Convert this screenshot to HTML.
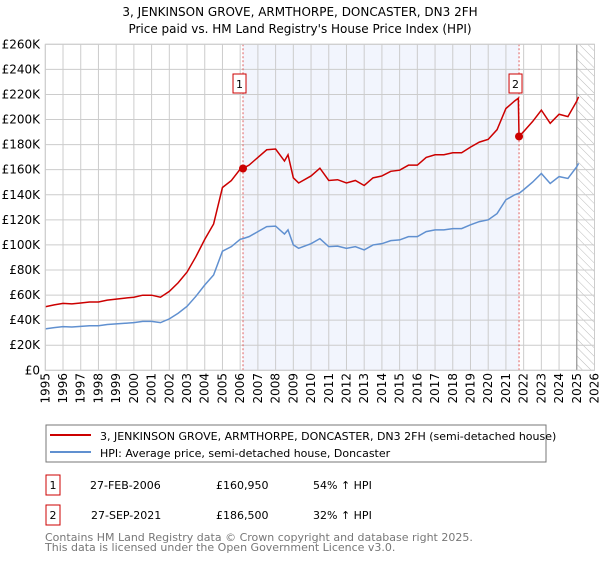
<!DOCTYPE html>
<html><head><meta charset="utf-8"><style>
body{margin:0;background:#fff;font-family:"DejaVu Sans","Liberation Sans",sans-serif;}
svg text{font-family:"DejaVu Sans","Liberation Sans",sans-serif;}
</style></head><body>
<svg id="c" width="600" height="560" viewBox="0 0 600 560" xmlns="http://www.w3.org/2000/svg">
<defs><pattern id="hatch" width="6" height="6" patternUnits="userSpaceOnUse" patternTransform="rotate(-45)"><line x1="0" y1="0" x2="0" y2="6" stroke="#bbb" stroke-width="1"/></pattern></defs>
<text x="300" y="16" text-anchor="middle" font-size="12" fill="#000">3, JENKINSON GROVE, ARMTHORPE, DONCASTER, DN3 2FH</text>
<text x="300" y="33" text-anchor="middle" font-size="12" fill="#000">Price paid vs. HM Land Registry's House Price Index (HPI)</text>
<g id="plot"></g>
<g>
<rect x="46" y="425" width="500" height="37" fill="#fff" stroke="#777"/>
<line x1="50" y1="435" x2="91" y2="435" stroke="#cc0000" stroke-width="2"/>
<text x="100" y="440" font-size="11">3, JENKINSON GROVE, ARMTHORPE, DONCASTER, DN3 2FH (semi-detached house)</text>
<line x1="50" y1="452" x2="91" y2="452" stroke="#6090d0" stroke-width="2"/>
<text x="100" y="457" font-size="11">HPI: Average price, semi-detached house, Doncaster</text>
</g>
<g>
<rect x="46" y="475" width="14" height="20" fill="#fff" stroke="#cc0000"/>
<text x="53" y="489" font-size="11" text-anchor="middle">1</text>
<text x="90" y="489" font-size="11">27-FEB-2006</text>
<text x="216" y="489" font-size="11">£160,950</text>
<text x="313" y="489" font-size="11">54% ↑ HPI</text>
<rect x="46" y="505" width="14" height="20" fill="#fff" stroke="#cc0000"/>
<text x="53" y="519" font-size="11" text-anchor="middle">2</text>
<text x="91" y="519" font-size="11">27-SEP-2021</text>
<text x="216" y="519" font-size="11">£186,500</text>
<text x="313" y="519" font-size="11">32% ↑ HPI</text>
</g>
<text x="45" y="541" font-size="11" fill="#777">Contains HM Land Registry data © Crown copyright and database right 2025.</text>
<text x="45" y="551" font-size="11" fill="#777">This data is licensed under the Open Government Licence v3.0.</text>
</svg>
<script>
const years=[1995,1996,1997,1998,1999,2000,2001,2002,2003,2004,2005,2006,2007,2008,2009,2010,2011,2012,2013,2014,2015,2016,2017,2018,2019,2020,2021,2022,2023,2024,2025,2026];
const yTicks=[0,20,40,60,80,100,120,140,160,180,200,220,240,260];
const times=[1995,1995.5,1996,1996.5,1997,1997.5,1998,1998.5,1999,1999.5,2000,2000.5,2001,2001.5,2002,2002.5,2003,2003.5,2004,2004.5,2005,2005.5,2006,2006.16,2006.5,2007,2007.5,2008,2008.5,2008.7,2009,2009.3,2010,2010.5,2011,2011.5,2012,2012.5,2013,2013.5,2014,2014.5,2015,2015.5,2016,2016.5,2017,2017.5,2018,2018.5,2019,2019.5,2020,2020.5,2021,2021.5,2021.7,2021.74,2022,2022.5,2023,2023.5,2024,2024.5,2025,2025.1];
const hpi=[33,34,34.8,34.5,35,35.5,35.5,36.5,37,37.5,38,39,39,38,41,45.5,51,59,68,76,95,98.6,104.5,105,106.6,110.6,114.6,115,108.7,112,100,97.3,101,105,98.6,99,97.3,98.6,96,100,101,103.4,104,106.6,106.6,110.6,112,112,113,113,116,118.6,120,125,136,140,141,141.1,144,150,157,149,154.5,153,162.4,165];
const property=[50.7,52.2,53.4,53,53.7,54.5,54.5,56,56.8,57.6,58.3,59.9,59.9,58.3,62.9,69.8,78.3,90.6,104.4,116.7,145.8,151.3,160.4,161,163.6,169.8,175.9,176.5,166.9,171.9,153.5,149.4,155,161.2,151.4,152,149.4,151.4,147.4,153.5,155,158.7,159.6,163.6,163.6,169.8,171.9,171.9,173.5,173.5,178,182,184.2,191.9,208.8,214.9,217,186.5,190.4,198.3,207.5,197,204.2,202.3,214.7,218.1];
const saleTimes=[2006.16,2021.74];
const salePrices=[160.95,186.5];
const saleLabels=["1","2"];
const X0=45.3,X1=594.5,Y0=370.3,Y1=44.3;
const x=t=>X0+(t-1995)/(2026-1995)*(X1-X0);
const y=v=>Y0-v/260*(Y0-Y1);
const NS="http://www.w3.org/2000/svg";
const g=document.getElementById('plot');
function mk(tag,attrs,parent){const e=document.createElementNS(NS,tag);for(const k in attrs)e.setAttribute(k,attrs[k]);(parent||g).appendChild(e);return e;}
let e;
e=mk('rect',{x:x(saleTimes[0]),y:Y1,width:x(saleTimes[1])-x(saleTimes[0]),height:Y0-Y1,fill:'#f2f5fd'});


e=mk('rect',{x:x(2025.0),y:Y1,width:X1-x(2025.0),height:Y0-Y1,fill:'url(#hatch)'});


years.forEach(yr=>{
 e=mk('line',{x1:x(yr),x2:x(yr),y1:Y1,y2:Y0,stroke:'#ccc','stroke-width':1});
 
 
 const tx=x(yr)+4;
 e=mk('text',{x:0,y:0,transform:`translate(${tx},373) rotate(-90)`,'text-anchor':'end','font-size':12,fill:'#000'});
 e.textContent=yr;
 
 
});
yTicks.forEach(v=>{
 e=mk('line',{x1:X0,x2:X1,y1:y(v),y2:y(v),stroke:'#ccc','stroke-width':1});
 
 
 e=mk('text',{x:40,y:y(v)+4,'text-anchor':'end','font-size':12,fill:'#000'});
 e.textContent=v===0?'£0':'£'+v+'K';
 
 
});
e=mk('line',{x1:x(2025.0),x2:x(2025.0),y1:Y1,y2:Y0,stroke:'#888','stroke-width':1});


saleTimes.forEach((t,i)=>{
 e=mk('line',{x1:x(t),x2:x(t),y1:Y1,y2:Y0,stroke:'#e06060','stroke-width':1,'stroke-dasharray':'2,2'});
 
 
});
e=mk('polyline',{points:times.map((t,i)=>x(t)+','+y(hpi[i])).join(' '),fill:'none',stroke:'#6090d0','stroke-width':1.5});


e=mk('polyline',{points:times.map((t,i)=>x(t)+','+y(property[i])).join(' '),fill:'none',stroke:'#cc0000','stroke-width':1.5});


saleTimes.forEach((t,i)=>{
 e=mk('circle',{cx:x(t),cy:y(salePrices[i]),r:4,fill:'#cc0000'});
 
 
 e=mk('rect',{x:x(t)-10,y:74,width:13,height:19,fill:'#fff',stroke:'#cc0000'});
 
 
 e=mk('text',{x:x(t)-3.5,y:88,'text-anchor':'middle','font-size':11});
 e.textContent=saleLabels[i];
 
 
});
e=mk('rect',{x:X0,y:Y1,width:X1-X0,height:Y0-Y1,fill:'none',stroke:'#ccc'});


</script>
</body></html>
